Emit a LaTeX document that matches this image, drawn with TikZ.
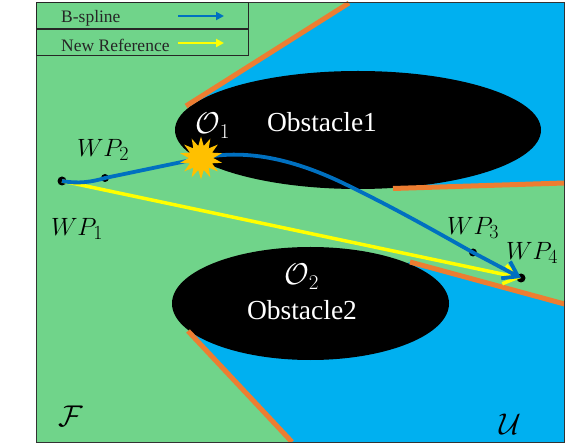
\RequirePackage{fix-cm}
\documentclass[tikz,border=0pt]{standalone}
\usepackage{fontspec}
\setmainfont{Liberation Serif}
\usetikzlibrary{arrows.meta,positioning,shapes.geometric}
\DeclareMathSizes{25}{25}{20}{15}
\DeclareMathSizes{30}{30}{21}{15}
\definecolor{freegreen}{HTML}{70D48A}
\definecolor{unsafeblue}{HTML}{00B0F0}
\definecolor{edgeorange}{HTML}{ED7D31}
\definecolor{splineblue}{HTML}{0070C0}
\definecolor{refyellow}{HTML}{FFFF00}
\definecolor{burstgold}{HTML}{FFC000}
\newcommand{\lblsize}{\fontsize{17.5}{20}\selectfont}
\newcommand{\obssize}{\fontsize{27.5}{30}\selectfont}
\newcommand{\mathsize}{\fontsize{25}{27}\selectfont}
\newcommand{\calsize}{\fontsize{30}{32}\selectfont}
\tikzset{
  legbox/.style={draw=black!85, line width=0.8pt, minimum width=212pt, minimum height=27pt,
                 anchor=north west, inner sep=0pt},
  legtext/.style={anchor=west, inner sep=0pt, font=\lblsize, text=black!85},
  obstacle/.style={ellipse, fill=black, inner sep=0pt},
  obstext/.style={text=white, inner sep=0pt, font=\obssize},
  wpdot/.style={circle, fill=black, inner sep=0pt},
  wptext/.style={inner sep=0pt, font=\mathsize, text=black},
  caltext/.style={inner sep=0pt, font=\calsize, text=black},
  edgeline/.style={edgeorange, line width=5pt},
  burststar/.style={star, star points=14, star point ratio=1.75, fill=burstgold,
                    minimum size=43pt, inner sep=0pt},
  splinearr/.style={-{Straight Barb[length=14pt,width=19pt]}, splineblue, line width=3.8pt},
  refarr/.style={-{Straight Barb[length=14pt,width=19pt]}, refyellow, line width=3.5pt},
  splineleg/.style={-{Triangle[length=8pt,width=8pt]}, splineblue, line width=2.2pt},
  refleg/.style={-{Triangle[length=8pt,width=8pt]}, refyellow, line width=2.2pt}}
\begin{document}
\begin{tikzpicture}[x=1pt,y=-1pt]
  \useasboundingbox (0,0) rectangle (586,443);
  % regions
  \fill[unsafeblue] (36,2) rectangle (564.5,442);
  \fill[freegreen] (36,3) -- (349,3) -- (186,106) -- (393,188) -- (564.5,183) -- (564.5,305)
    -- (410,262) -- (188,331) -- (292,442) -- (36,442) -- cycle;
  % cones
  \node[obstacle, minimum width=366pt, minimum height=118pt] (obsa) at (358,130) {};
  \node[obstacle, minimum width=277pt, minimum height=113pt] (obsb) at (310.5,303.5) {};
  \coordinate (conea) at (349,3);
  \coordinate (coneb) at (564.5,183);
  \coordinate (conec) at (564.5,304);
  \coordinate (coned) at (292,442);
  \draw[edgeline] (186,106) -- (conea);
  \draw[edgeline] (393,188.5) -- (coneb);
  \draw[edgeline] (410,262) -- (conec);
  \draw[edgeline] (188,331) -- (coned);
  \draw[black!80, line width=0.8pt] (36,2) rectangle (564.5,442);
  % legend
  \node[legbox] (legone) at (36,2) {};
  \node[legbox] (legtwo) at (36,28.5) {};
  \node[legtext] (legonetxt) at (61,18) {B-spline};
  \node[legtext] (legtwotxt) at (61,45) {New Reference};
  \coordinate (legonea) at (178,16);
  \coordinate (legoneb) at (224,16);
  \coordinate (legtwoa) at (178,43);
  \coordinate (legtwob) at (224,43);
  \draw[splineleg] (legonea) -- (legoneb);
  \draw[refleg] (legtwoa) -- (legtwob);
  % waypoints
  \node[wpdot, minimum size=9pt] (wpone) at (62,181) {};
  \node[wpdot, minimum size=8pt] (wptwo) at (105,178) {};
  \node[wpdot, minimum size=8pt] (wpthree) at (473,252.5) {};
  \node[wpdot, minimum size=9pt] (wpfour) at (521,278) {};
  \coordinate (burstpt) at (201,158);
  % paths
  \draw[refarr] (wpone.center) -- (wpfour.center);
  \draw[splinearr] (wpone.center) .. controls (78,184) and (92,182) .. (wptwo.center)
    -- (burstpt) .. controls (250,148) and (300,161) .. (353,188)
    .. controls (400,211) and (440,234) .. (wpthree.center) -- (wpfour.center);
  \node[burststar] (burst) at (burstpt) {};
  % labels
  \node[wptext] (wponetxt) at (77,229) {$WP_1$};
  \node[wptext] (wptwotxt) at (103,150) {$WP_2$};
  \node[wptext] (wpthreetxt) at (473,228) {$WP_3$};
  \node[wptext] (wpfourtxt) at (532,253) {$WP_4$};
  \node[obstext] (obsatxt) at (322,122) {Obstacle1};
  \node[obstext] (obsbtxt) at (302,310) {Obstacle2};
  \node[obstext] (obsasym) at (213,126) {\calsize$\mathcal{O}_1$};
  \node[obstext] (obsbsym) at (302,277) {\calsize$\mathcal{O}_2$};
  \node[caltext] (freetxt) at (70.5,416) {$\mathcal{F}$};
  \node[caltext] (unsafetxt) at (510,424) {$\mathcal{U}$};
\end{tikzpicture}
\end{document}
